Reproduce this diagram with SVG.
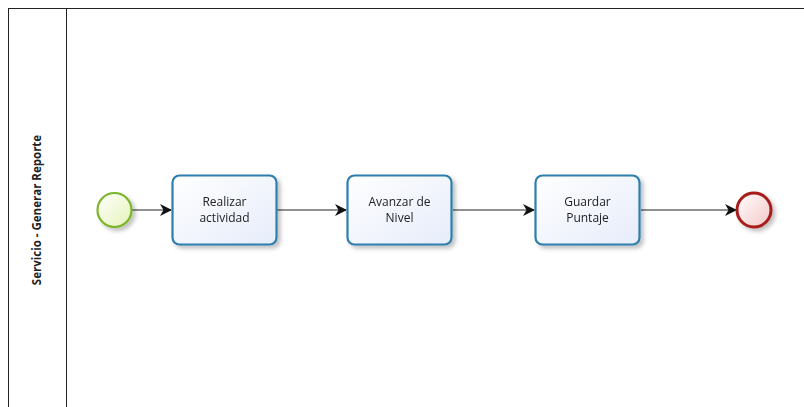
<svg xmlns="http://www.w3.org/2000/svg" width="804" height="407" viewBox="0 0 804 407">
<defs>
<style>
.task rect{fill:url(#tg);stroke:#2e7fae;stroke-width:2.2}
.lbl{font-family:"Open Sans","Liberation Sans",sans-serif;font-size:12px;fill:#222;text-anchor:middle}
.conn{stroke:#222;stroke-width:1.2;fill:none}
</style>
<linearGradient id="tg" x1="0" y1="0" x2="1" y2="1"><stop offset="0" stop-color="#ffffff"/><stop offset="1" stop-color="#e6ecfa"/></linearGradient>
<linearGradient id="sg" x1="0" y1="0" x2="1" y2="1"><stop offset="0" stop-color="#ffffff"/><stop offset="1" stop-color="#e4f3b8"/></linearGradient>
<linearGradient id="eg" x1="0" y1="0" x2="1" y2="1"><stop offset="0" stop-color="#ffffff"/><stop offset="1" stop-color="#f3c6c6"/></linearGradient>
<filter id="sh" x="-20%" y="-20%" width="150%" height="150%"><feGaussianBlur in="SourceAlpha" stdDeviation="2"/><feOffset dx="3" dy="3"/><feComponentTransfer><feFuncA type="linear" slope="0.25"/></feComponentTransfer><feMerge><feMergeNode/><feMergeNode in="SourceGraphic"/></feMerge></filter>
<marker id="ar" markerWidth="12" markerHeight="12" refX="11" refY="6" orient="auto" markerUnits="userSpaceOnUse"><path d="M0,0 L12,6 L0,12 L3.5,6 Z" fill="#111"/></marker>
</defs>
<rect width="804" height="407" fill="#fff"/>
<g id="pool">
<rect x="8.5" y="8.5" width="800" height="405" fill="none" stroke="#222" stroke-width="1"/>
<line x1="66.5" y1="8.5" x2="66.5" y2="407" stroke="#222" stroke-width="1"/>
<text class="lbl" transform="translate(41,210) rotate(-90)" style="font-weight:bold;font-size:11.5px">Servicio - Generar Reporte</text>
</g>
<g id="connectors">
<line class="conn" x1="132" y1="210" x2="171" y2="210" marker-end="url(#ar)"/>
<line class="conn" x1="277" y1="210" x2="346" y2="210" marker-end="url(#ar)"/>
<line class="conn" x1="453" y1="210" x2="534" y2="210" marker-end="url(#ar)"/>
<line class="conn" x1="641" y1="210" x2="736" y2="210" marker-end="url(#ar)"/>
</g>
<g id="start" filter="url(#sh)"><circle cx="114.5" cy="210" r="17" fill="url(#sg)" stroke="#7ab52a" stroke-width="2.2"/></g>
<g id="t1" class="task" filter="url(#sh)"><rect x="172.5" y="175.5" width="104" height="69" rx="7"/><text class="lbl" x="224.5" y="206">Realizar</text><text class="lbl" x="224.5" y="222">actividad</text></g>
<g id="t2" class="task" filter="url(#sh)"><rect x="347.5" y="175.5" width="104" height="69" rx="7"/><text class="lbl" x="399.5" y="206">Avanzar de</text><text class="lbl" x="399.5" y="222">Nivel</text></g>
<g id="t3" class="task" filter="url(#sh)"><rect x="535.5" y="175.5" width="104" height="69" rx="7"/><text class="lbl" x="587.5" y="206">Guardar</text><text class="lbl" x="587.5" y="222">Puntaje</text></g>
<g id="end" filter="url(#sh)"><circle cx="754" cy="210" r="17" fill="url(#eg)" stroke="#a81c1c" stroke-width="3"/></g>
</svg>
